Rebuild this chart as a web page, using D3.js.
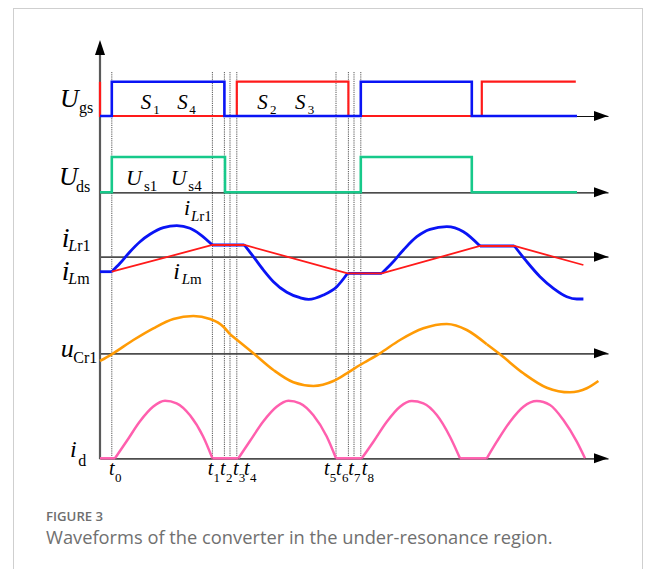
<!DOCTYPE html>
<html>
<head>
<meta charset="utf-8">
<script src="https://cdn.jsdelivr.net/npm/d3@7"></script>
<style>
  html, body { margin: 0; padding: 0; background: #fff; }
  svg { display: block; }
</style>
</head>
<body>
<svg id="fig" width="656" height="569"></svg>
<script>
// ---- data (time in arbitrary units, levels per trace) ----

// switching instants t0 … t8
const switchTimes = [5.9, 56.2, 62.2, 65.0, 68.4, 118.0, 124.2, 127.0, 130.4];
const switchNames = ["0", "1", "2", "3", "4", "5", "6", "7", "8"];

// gate drive levels [time, level]
const gateS1S4 = [[0, 0], [5.9, 1], [62.2, 0], [130.4, 1], [185.9, 0], [238.5, 0]];
const gateS2S3 = [[0, 1], [0, 0], [68.4, 1], [124.2, 0], [190.9, 1], [237.9, 1]];
// drain-source voltage of S1/S4
const drainSource = [[0, 0], [5.9, 1], [62.5, 0], [130.4, 1], [185.9, 0], [238.5, 0]];

// resonant inductor current, piece by piece
const iLr1Pieces = [
  [[0, -1.5], [5.9, -1.5]],
  [[5.9, -1.5], [10, -0.66], [15, 0.5], [20, 1.5], [25, 2.24], [31.7, 2.9], [38.4, 3.1], [45, 2.84], [50, 2.24], [56.2, 1.17]],
  [[56.2, 1.17], [72.2, 1.17]],
  [[72.2, 1.17], [76.7, 0], [81.7, -1.33], [86.7, -2.5], [93.4, -3.56], [100, -4.1], [104.3, -4.26], [111.7, -3.83], [118.4, -3.0], [123.8, -1.66]],
  [[123.8, -1.66], [140.9, -1.66]],
  [[140.9, -1.66], [145.9, -0.66], [151.7, 0.67], [158.4, 2.0], [165, 2.74], [173.4, 3.0], [181.7, 2.5], [190, 1.07]],
  [[190, 1.07], [207.2, 1.07]],
  [[207.2, 1.07], [213.4, -0.5], [220, -2.0], [226.7, -3.16], [233.4, -4.0], [238.4, -4.23], [241.7, -4.23]]
];

// magnetizing current (piecewise linear)
const iLm = [[5.9, -1.5], [56.2, 1.17], [72.2, 1.17], [123.8, -1.66], [140.9, -1.66], [190, 1.07], [207.2, 1.07], [241.7, -0.83]];

// resonant capacitor voltage
const uCr1Pieces = [
  [[0, -0.77], [5.9, -0.1], [16.7, 1.33], [26.7, 2.5], [36.7, 3.43], [46.7, 3.73], [55, 3.43], [61.7, 2.66], [65, 1.9]],
  [[65, 1.9], [76.7, 0], [86.7, -1.67], [96.7, -2.9], [106.7, -3.27], [116.7, -2.77], [123.4, -2.0], [130, -1.17],
   [140, 0], [150, 1.33], [161.7, 2.5], [173.4, 2.93], [183.4, 2.33], [193.4, 0.9]],
  [[193.4, 0.9], [200, -0.1], [211.7, -2.0], [223.4, -3.44], [235, -3.9], [243.4, -3.5], [249.2, -2.77]]
];

// rectifier diode current
const iDPieces = [
  [[0, 0], [7.5, 0]],
  [[7.5, 0], [13.3, 1.7], [20, 3.7], [26.5, 5.15], [32.5, 5.76], [38.3, 5.5], [45, 4.3], [51.5, 2.2], [56.2, 0]],
  [[56.2, 0], [69.2, 0]],
  [[69.2, 0], [74.9, 1.7], [81.7, 3.7], [88.3, 5.15], [94.2, 5.76], [100, 5.5], [106.7, 4.3], [113.3, 2.2], [118, 0]],
  [[118, 0], [130.9, 0]],
  [[130.9, 0], [136.7, 1.66], [143.4, 3.66], [150, 5.16], [155.9, 5.73], [161.7, 5.5], [168.4, 4.33], [175, 2.16], [180, 0]],
  [[180, 0], [193.4, 0]],
  [[193.4, 0], [198.4, 1.66], [205, 3.66], [211.7, 5.16], [218.4, 5.73], [225, 5.33], [231.7, 3.83], [238.4, 1.66], [242.5, 0]]
];

// ---- layout ----
const svg = d3.select("#fig");
const serif = "'Liberation Serif', 'Times New Roman', serif";
const sans = "'Open Sans', 'Noto Sans', sans-serif";

const x = d3.scaleLinear().domain([0, 254]).range([100, 608]);
const yGate  = d3.scaleLinear().domain([0, 1]).range([116, 81.7]);
const yDrain = d3.scaleLinear().domain([0, 1]).range([192.3, 157]);
const yCur   = d3.scaleLinear().domain([-5, 5]).range([306.7, 206.7]);
const yCap   = d3.scaleLinear().domain([-5, 5]).range([403.3, 303.3]);
const yDiode = d3.scaleLinear().domain([0, 6]).range([458.3, 398.3]);

// figure frame
svg.append("rect")
  .attr("x", 13.5).attr("y", 8.5).attr("width", 629).attr("height", 580)
  .attr("fill", "none").attr("stroke", "#cfcfcf").attr("stroke-width", 1);

// dotted switching-instant markers
svg.append("g").selectAll("line").data(switchTimes).join("line")
  .attr("x1", d => x(d)).attr("x2", d => x(d))
  .attr("y1", 72).attr("y2", yDiode(0))
  .attr("stroke", "#444").attr("stroke-width", 0.9)
  .attr("stroke-dasharray", "1.2,1");

// horizontal time axes with arrow heads
const axisRows = [
  { y: yGate(0),  color: "#111", w: 1.2 },
  { y: yDrain(0), color: "#111", w: 1.2 },
  { y: yCur(0),   color: "#4d4d4d", w: 1.8 },
  { y: yCap(0),   color: "#4d4d4d", w: 1.8 },
  { y: yDiode(0), color: "#4d4d4d", w: 1.8 }
];
axisRows.forEach(r => {
  const g = svg.append("g").attr("transform", `translate(0,${r.y})`)
    .call(d3.axisBottom(x).tickValues([]).tickSizeOuter(0));
  g.select(".domain").attr("stroke", r.color).attr("stroke-width", r.w);
  const tip = x.range()[1];
  svg.append("path")
    .attr("d", `M${tip},${r.y} L${tip - 14},${r.y - 5} L${tip - 14},${r.y + 5} Z`)
    .attr("fill", "#000");
});

// vertical axis
svg.append("line")
  .attr("x1", x(0)).attr("x2", x(0)).attr("y1", yDiode(0) + 1).attr("y2", 52)
  .attr("stroke", "#5a5a5a").attr("stroke-width", 2.2);
svg.append("path")
  .attr("d", `M${x(0)},40 L${x(0) - 5},55 L${x(0) + 5},55 Z`).attr("fill", "#000");

// ---- traces ----
const stepLine = yS => d3.line().x(d => x(d[0])).y(d => yS(d[1])).curve(d3.curveStepAfter);
const smooth = yS => d3.line().x(d => x(d[0])).y(d => yS(d[1])).curve(d3.curveMonotoneX);
const straight = yS => d3.line().x(d => x(d[0])).y(d => yS(d[1]));

svg.append("path").datum(gateS2S3).attr("d", stepLine(yGate))
  .attr("fill", "none").attr("stroke", "#ff1a1a").attr("stroke-width", 2.2);
svg.append("path").datum(gateS1S4).attr("d", stepLine(yGate))
  .attr("fill", "none").attr("stroke", "#0a14f5").attr("stroke-width", 2.6);
svg.append("path").datum(drainSource).attr("d", stepLine(yDrain))
  .attr("fill", "none").attr("stroke", "#17c98a").attr("stroke-width", 2.6);

svg.append("g").selectAll("path").data(iLr1Pieces).join("path")
  .attr("d", smooth(yCur))
  .attr("fill", "none").attr("stroke", "#0a14f5").attr("stroke-width", 2.8)
  .attr("stroke-linejoin", "round");
svg.append("path").datum(iLm).attr("d", straight(yCur))
  .attr("fill", "none").attr("stroke", "#ff1a1a").attr("stroke-width", 1.8);

svg.append("g").selectAll("path").data(uCr1Pieces).join("path")
  .attr("d", smooth(yCap))
  .attr("fill", "none").attr("stroke", "#ff9b05").attr("stroke-width", 2.6)
  .attr("stroke-linejoin", "round");

svg.append("g").selectAll("path").data(iDPieces).join("path")
  .attr("d", smooth(yDiode))
  .attr("fill", "none").attr("stroke", "#ff5fae").attr("stroke-width", 2.5)
  .attr("stroke-linejoin", "round");

// ---- symbols ----
function symbol(mx, my, main, msize, sx, sy, parts, ssize) {
  svg.append("text").attr("x", mx).attr("y", my)
    .attr("font-family", serif).attr("font-style", "italic")
    .attr("font-size", msize).attr("fill", "#000").text(main);
  const t = svg.append("text").attr("x", sx).attr("y", sy)
    .attr("font-family", serif).attr("font-size", ssize).attr("fill", "#000");
  parts.forEach(p => t.append("tspan").attr("font-style", p[1] ? "italic" : "normal").text(p[0]));
}

symbol(60, 106.7, "U", 26, 79, 113, [["gs", false]], 16);
symbol(59, 185, "U", 26, 76, 191.7, [["ds", false]], 16);
symbol(140.7, 109.3, "S", 21, 153.3, 114, [["1", false]], 13);
symbol(177.3, 109.3, "S", 21, 189.3, 114, [["4", false]], 13);
symbol(257.3, 109.3, "S", 21, 270, 114, [["2", false]], 13);
symbol(295, 109.3, "S", 21, 307.7, 114, [["3", false]], 13);
symbol(126, 185, "U", 22, 144, 190.7, [["s1", false]], 15);
symbol(170.7, 185, "U", 22, 188.3, 190.7, [["s4", false]], 15);
symbol(184, 215, "i", 22, 191, 220.7, [["L", true], ["r1", false]], 15);
symbol(61.7, 247, "i", 28, 68.3, 251, [["L", true], ["r1", false]], 16);
symbol(61.7, 280, "i", 28, 68.3, 284, [["L", true], ["m", false]], 16);
symbol(173.3, 279.3, "i", 24, 181.7, 284.3, [["L", true], ["m", false]], 15);
symbol(60.7, 356.7, "u", 26, 73.3, 363.3, [["Cr1", false]], 16);
symbol(70, 456.7, "i", 24, 78.3, 465.7, [["d", false]], 16);

// time labels, nudged apart where the instants crowd together
const labelNudge = [-2.7, -4.6, -4.3, 3, 7.3, -12, -12.3, -5.7, 1];
switchTimes.forEach((tv, i) => {
  const lx = x(tv) + labelNudge[i];
  symbol(lx, 475, "t", 20, lx + 5.8, 481.5, [[switchNames[i], false]], 13);
});

// ---- caption ----
svg.append("text").attr("x", 46).attr("y", 521)
  .attr("font-family", sans).attr("font-size", 13.2).attr("font-weight", 600)
  .attr("fill", "#6e6e6e").text("FIGURE 3");
svg.append("text").attr("x", 46).attr("y", 544)
  .attr("font-family", sans).attr("font-size", 18.3)
  .attr("fill", "#707070").text("Waveforms of the converter in the under-resonance region.");
</script>
</body>
</html>
